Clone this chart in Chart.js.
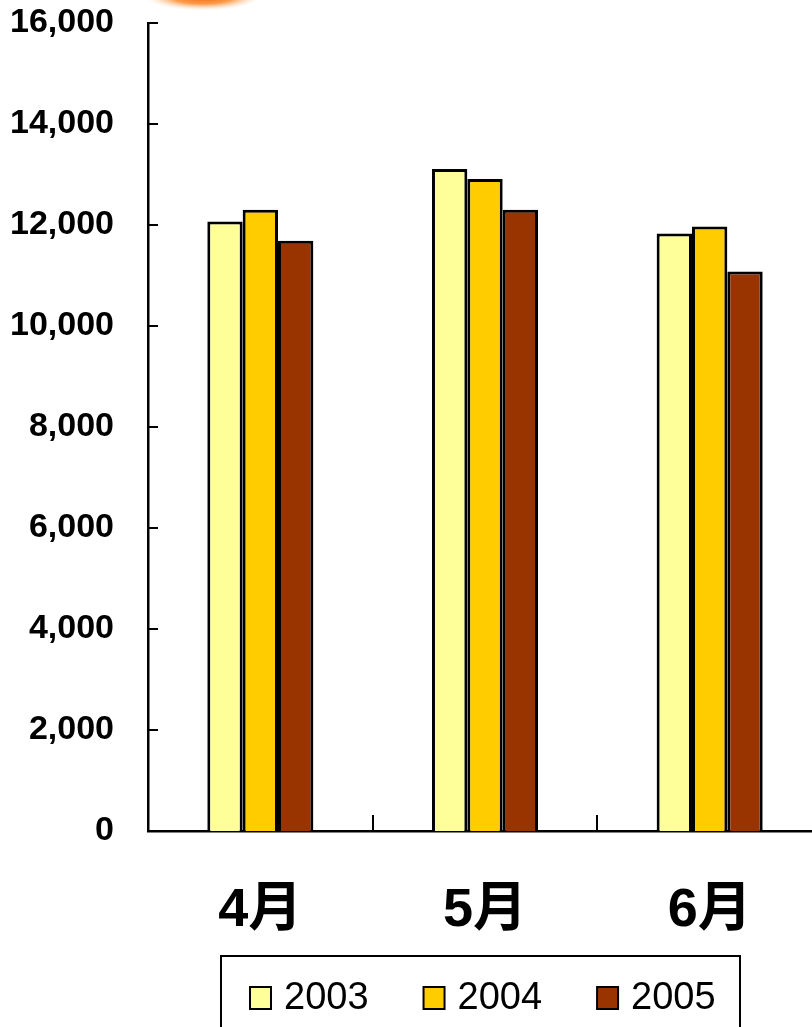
<!DOCTYPE html>
<html>
<head>
<meta charset="utf-8">
<script src="https://cdn.jsdelivr.net/npm/chart.js@4.4.0/dist/chart.umd.min.js"></script>
<style>
  body { margin: 0; background: #fff; }
  #wrap { width: 812px; height: 1027px; overflow: hidden; position: relative; }
  canvas { display: block; }
</style>
</head>
<body>
<div id="wrap"><canvas id="salesChart" width="822" height="1040"></canvas></div>
<script>
// Chart data
const months = ["4月", "5月", "6月"];
const years = ["2003", "2004", "2005"];
const values2003 = [12070, 13110, 11830];
const values2004 = [12300, 12910, 11970];
const values2005 = [11690, 12300, 11080];
const yTicks = [0, 2000, 4000, 6000, 8000, 10000, 12000, 14000, 16000];

const barColors = ["#ffff99", "#ffcc00", "#993300"];
const fontFamily = "'Liberation Sans', Arial, 'Noto Sans CJK JP', sans-serif";

// Inside tick marks for both axes
const innerTicks = {
  id: "innerTicks",
  afterDraw(chart) {
    const ctx = chart.ctx;
    const x = chart.scales.x, y = chart.scales.y;
    ctx.save();
    ctx.strokeStyle = "#000";
    ctx.lineWidth = 2;
    ctx.beginPath();
    yTicks.forEach(v => {
      const py = Math.round(y.getPixelForValue(v));
      ctx.moveTo(y.right, py);
      ctx.lineTo(y.right + 10, py);
    });
    for (let i = 1; i <= months.length; i++) {
      const px = Math.round(x.getPixelForValue(i - 0.5));
      ctx.moveTo(px, x.top);
      ctx.lineTo(px, x.top - 16);
    }
    ctx.stroke();
    ctx.restore();
  }
};

// Orange blur at the very top (slide decoration)
const topGlow = {
  id: "topGlow",
  beforeDraw(chart) {
    const ctx = chart.ctx;
    ctx.save();
    ctx.translate(203, -4);
    ctx.scale(1, 0.25);
    const g = ctx.createRadialGradient(0, 0, 0, 0, 0, 58);
    g.addColorStop(0, "rgba(240,90,0,1)");
    g.addColorStop(0.55, "rgba(250,130,30,0.8)");
    g.addColorStop(1, "rgba(255,210,170,0)");
    ctx.fillStyle = g;
    ctx.beginPath();
    ctx.arc(0, 0, 58, 0, Math.PI * 2);
    ctx.fill();
    ctx.restore();
  }
};

// Boxed legend under the x labels
const boxLegend = {
  id: "boxLegend",
  afterDraw(chart) {
    const ctx = chart.ctx;
    ctx.save();
    ctx.strokeStyle = "#000";
    ctx.lineWidth = 2;
    ctx.strokeRect(221, 956, 519, 80);
    ctx.font = "38px " + fontFamily;
    ctx.textBaseline = "middle";
    let lx = 250;
    chart.data.datasets.forEach(ds => {
      ctx.fillStyle = ds.backgroundColor;
      ctx.fillRect(lx, 987, 21, 22);
      ctx.lineWidth = 2;
      ctx.strokeRect(lx, 987, 21, 22);
      ctx.fillStyle = "#000";
      ctx.fillText(ds.label, lx + 34, 999);
      lx += 34 + ctx.measureText(ds.label).width + 55;
    });
    ctx.restore();
  }
};

let ctx = document.getElementById("salesChart").getContext("2d");
let salesChart = new Chart(ctx, {
  type: "bar",
  data: {
    labels: months,
    datasets: [
      { label: years[0], data: values2003, backgroundColor: barColors[0] },
      { label: years[1], data: values2004, backgroundColor: barColors[1] },
      { label: years[2], data: values2005, backgroundColor: barColors[2] },
    ].map(ds => Object.assign(ds, {
      borderColor: "#000",
      borderWidth: 3,
      categoryPercentage: 0.472,
      barPercentage: 1.0,
    })),
  },
  options: {
    responsive: false,
    animation: false,
    devicePixelRatio: 1,
    layout: { padding: { top: 23, left: 0, right: 0, bottom: 0 } },
    plugins: {
      legend: { display: false },
      tooltip: { enabled: false },
    },
    scales: {
      x: {
        grid: { display: false },
        border: { display: true, color: "#000", width: 2.5 },
        ticks: {
          color: "#000",
          padding: 40,
          font: { family: fontFamily, size: 54, weight: "bold" },
        },
        afterFit(scale) {
          scale.height = 209;
          scale.paddingLeft = 0;
          scale.paddingRight = 0;
        },
      },
      y: {
        min: 0,
        max: 16000,
        grid: { display: false },
        border: { display: true, color: "#000", width: 2.5 },
        afterBuildTicks(scale) { scale.ticks = yTicks.map(v => ({ value: v })); },
        ticks: {
          color: "#000",
          padding: 26,
          font: { family: fontFamily, size: 34, weight: "bold" },
          callback: v => v.toLocaleString("en-US"),
        },
        afterFit(scale) {
          scale.width = 148;
          scale.paddingTop = 0;
          scale.paddingBottom = 0;
        },
      },
    },
  },
  plugins: [topGlow, innerTicks, boxLegend],
});
</script>
</body>
</html>
